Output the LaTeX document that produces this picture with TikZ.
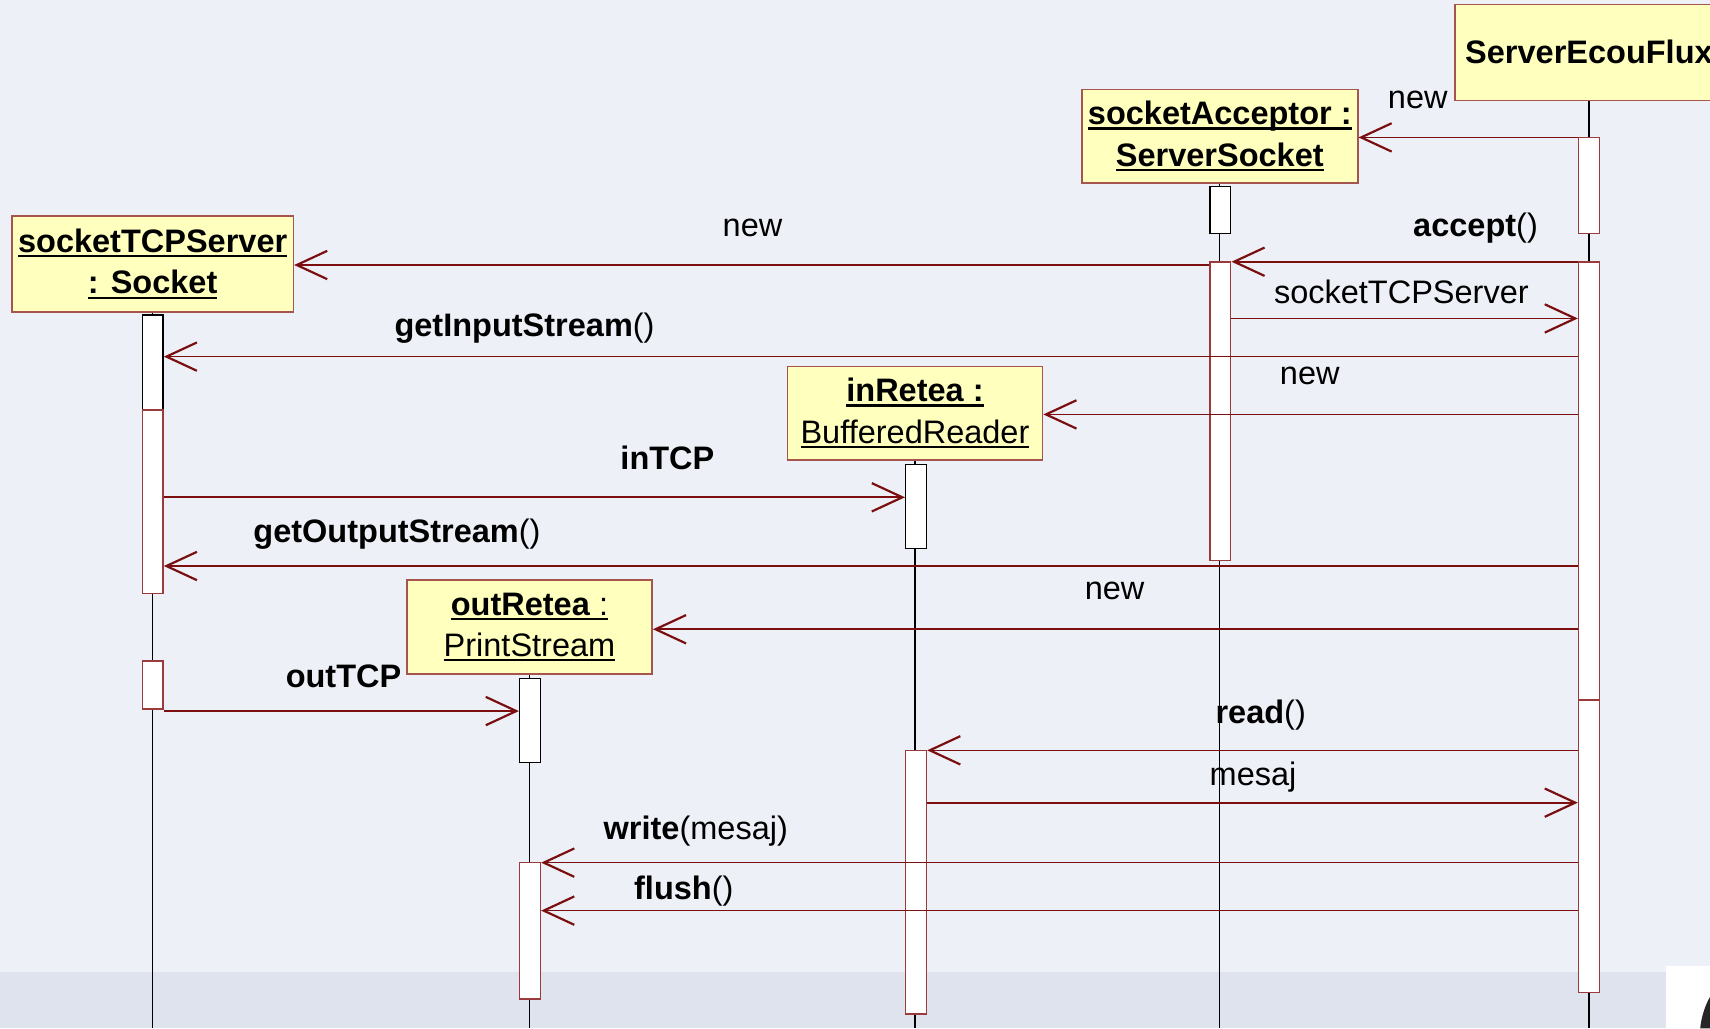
\documentclass[tikz,border=0pt]{standalone}
\usepackage{fontspec}
\setmainfont{Liberation Sans}
\usetikzlibrary{arrows.meta}

\definecolor{bgc}{HTML}{EDF0F6}
\definecolor{bandc}{HTML}{DEE3EE}
\definecolor{msgc}{HTML}{7B0F0F}
\definecolor{boxfill}{HTML}{FFFFBE}
\definecolor{boxline}{HTML}{A5544E}
\definecolor{barred}{HTML}{9A3A3A}

\newcommand\objfont{\fontsize{14.9pt}{19pt}\selectfont}
% underlined text as used for object names
\newsavebox\undlbox
\newcommand\undl[1]{\leavevmode\sbox\undlbox{#1}%
  \rlap{\rule[-2.3pt]{\wd\undlbox}{1.1pt}}\usebox\undlbox}

\tikzset{
  objbox/.style={draw=boxline, fill=boxfill, line width=0.7pt, align=center,
                 inner sep=0pt, font=\objfont},
  actbar/.style={fill=white, line width=0.7pt, minimum width=9.5pt, inner sep=0pt},
  life/.style={black, line width=0.6pt},
  msg/.style={msgc, line width=0.75pt,
              -{Straight Barb[length=14pt,width=13pt,line width=1pt]}},
  reply/.style={msg, line width=0.85pt},
  lbl/.style={inner sep=0pt, font=\objfont}
}

% activation bar: name, x, top, bottom, border colour
\newcommand\actbar[5]{%
  \node[actbar, draw=#5, minimum height={(#4-#3)*0.5pt}] (#1) at (#2,{(#3+#4)/2}) {};}

\begin{document}
\begin{tikzpicture}[x=0.5pt,y=-0.5pt]
\useasboundingbox (0,0) rectangle (1568,943);
\clip (0,0) rectangle (1568,943);

% slide background
\fill[bgc] (0,0) rectangle (1568,943);
\fill[bandc] (0,891) rectangle (1568,943);
\fill[white] (1528,886) rectangle (1568,943);
\fill[black!85] (1568,914) .. controls (1563,923) and (1560,933) .. (1559,943) -- (1568,943) -- cycle;

% objects
\node[objbox, minimum width=123pt, minimum height=44pt] (sef) at (1457,48)
  {\textbf{ServerEcouFlux}};
\node[objbox, minimum width=126.5pt, minimum height=43pt] (sa) at (1118.5,125)
  {\undl{\textbf{socketAcceptor :}}\\\undl{\textbf{ServerSocket}}};
\node[objbox, minimum width=129pt, minimum height=44pt] (sts) at (140,242)
  {\undl{\textbf{socketTCPServer}}\\\undl{\textbf{: Socket}}};
\node[objbox, minimum width=117pt, minimum height=43pt] (ir) at (839,379)
  {\undl{\textbf{inRetea :}}\\\undl{BufferedReader}};
\node[objbox, minimum width=112.5pt, minimum height=43pt] (or) at (485.5,575)
  {\undl{\textbf{outRetea} :}\\\undl{PrintStream}};

% lifelines
\draw[life] (sef.south) -- (sef.south |- 0,943);
\draw[life] (sa.south) -- (sa.south |- 0,943);
\draw[life] (sts.south) -- (sts.south |- 0,943);
\draw[life] (ir.south) -- (ir.south |- 0,943);
\draw[life] (or.south) -- (or.south |- 0,943);

% activation bars
\actbar{sefA}{1457}{126}{214}{barred}
\actbar{sefB}{1457}{240}{642}{barred}
\actbar{sefC}{1457}{642}{910}{barred}
\actbar{saA}{1119}{171}{214}{black}
\actbar{saB}{1119}{240}{514}{barred}
\actbar{stsA}{140}{289}{376}{black}
\actbar{stsB}{140}{376}{544}{barred}
\actbar{stsC}{140}{606}{650}{barred}
\actbar{irA}{840}{426}{503}{black}
\actbar{irB}{840}{688}{930}{barred}
\actbar{orA}{486}{622}{699}{black}
\actbar{orB}{486}{791}{916}{barred}

% messages
\draw[msg] (sefA.west |- 0,126) -- (sa.east |- 0,126);
\draw[msg] (sefB.west |- 0,240) -- (saB.east |- 0,240);
\draw[msg] (saB.west |- 0,243) -- (sts.east |- 0,243);
\draw[reply] (saB.east |- 0,292) -- (sefB.west |- 0,292);
\draw[msg] (sefB.west |- 0,327) -- (stsA.east |- 0,327);
\draw[msg] (sefB.west |- 0,380) -- (ir.east |- 0,380);
\draw[reply] (stsB.east |- 0,456) -- (irA.west |- 0,456);
\draw[msg] (sefB.west |- 0,519) -- (stsB.east |- 0,519);
\draw[msg] (sefB.west |- 0,577) -- (or.east |- 0,577);
\draw[reply] (stsC.east |- 0,652) -- (orA.west |- 0,652);
\draw[msg] (sefC.west |- 0,688) -- (irB.east |- 0,688);
\draw[reply] (irB.east |- 0,736) -- (sefC.west |- 0,736);
\draw[msg] (sefC.west |- 0,791) -- (orB.east |- 0,791);
\draw[msg] (sefC.west |- 0,835) -- (orB.east |- 0,835);

% message labels
\node[lbl] (m1) at (1300,92) {new};
\node[lbl] (m2) at (1353,209) {\textbf{accept}()};
\node[lbl] (m3) at (690,209) {new};
\node[lbl] (m4) at (1285,268) {socketTCPServer};
\node[lbl] (m5) at (481,301) {\textbf{getInputStream}()};
\node[lbl] (m6) at (1201,345) {new};
\node[lbl] (m7) at (612,420) {\textbf{inTCP}};
\node[lbl] (m8) at (364,490) {\textbf{getOutputStream}()};
\node[lbl] (m9) at (1022,542) {new};
\node[lbl] (m10) at (315,620) {\textbf{outTCP}};
\node[lbl] (m11) at (1156,656) {\textbf{read}()};
\node[lbl] (m12) at (1149,713) {mesaj};
\node[lbl] (m13) at (638,762) {\textbf{write}(mesaj)};
\node[lbl] (m14) at (627,817) {\textbf{flush}()};
\end{tikzpicture}
\end{document}
